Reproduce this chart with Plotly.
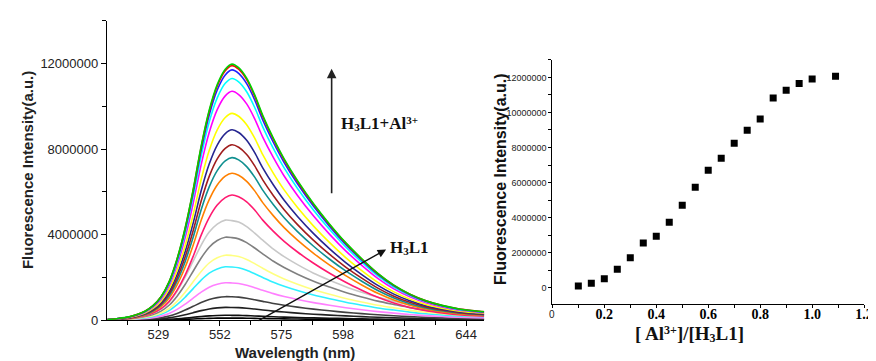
import plotly.graph_objects as go

W, H = 876, 361

# ---------------- data ----------------
# wavelength grid (nm) for emission spectra
wavelength = [510, 514, 518, 521, 524, 527, 530, 533, 536, 539, 542, 545, 548, 551, 554,
              556.5, 559, 562, 565, 568, 572, 576, 581, 587, 593, 599, 605, 611, 617, 623,
              629, 635, 641, 647, 651]
# spectral profile (normalised to its peak)
profile_high = [0.003, 0.007, 0.013, 0.022, 0.035, 0.057, 0.092, 0.15, 0.24, 0.36, 0.51, 0.68,
                0.82, 0.92, 0.98, 1.0, 0.986, 0.945, 0.88, 0.80, 0.71, 0.63, 0.545, 0.455,
                0.375, 0.303, 0.24, 0.183, 0.137, 0.102, 0.076, 0.058, 0.045, 0.037, 0.033]
# spectral profile (normalised)
profile_low = [0.004, 0.009, 0.017, 0.028, 0.045, 0.07, 0.11, 0.18, 0.29, 0.43, 0.59, 0.75,
               0.88, 0.96, 1.0, 0.995, 0.98, 0.935, 0.87, 0.80, 0.71, 0.635, 0.555, 0.47,
               0.40, 0.335, 0.28, 0.23, 0.19, 0.152, 0.122, 0.10, 0.082, 0.07, 0.064]
# peak intensity of each spectrum (top to bottom)
peak_intensity = [11970000, 11900000, 11700000, 11300000, 10700000, 9670000, 8900000, 8200000,
                  7600000, 6870000, 5850000, 4680000, 3880000, 3040000, 2500000, 1750000,
                  1100000, 600000, 230000, 100000]
curve_colors = ["#00d000", "#ff0000", "#2020ff", "#00ffff", "#ff00ff", "#ffff00", "#262690",
                "#a01e1e", "#109090", "#ff8000", "#ff1a70", "#c8c8c8", "#808080", "#ffff80",
                "#30f0ff", "#ff80ff", "#404040", "#202020", "#101010", "#000000"]

# titration data
ratio = [0.10, 0.15, 0.20, 0.25, 0.30, 0.35, 0.40, 0.45, 0.50, 0.55, 0.60, 0.65, 0.70, 0.75,
         0.80, 0.85, 0.90, 0.95, 1.00, 1.09]
intensity = [110000, 260000, 520000, 1060000, 1710000, 2550000, 2940000, 3740000, 4710000,
             5730000, 6700000, 7390000, 8240000, 8990000, 9620000, 10830000, 11260000,
             11650000, 11910000, 12060000]

left_xticks = [529, 552, 575, 598, 621, 644]
left_yticks = [0, 4000000, 8000000, 12000000]
right_yticks = [0, 2000000, 4000000, 6000000, 8000000, 10000000, 12000000]
right_xticks = [0.2, 0.4, 0.6, 0.8, 1.0, 1.2]

SANS = "Liberation Sans, Arial, sans-serif"
SERIF = "Liberation Serif, Times New Roman, serif"

fig = go.Figure()

n = len(peak_intensity)
for i in reversed(range(n)):
    prof = profile_high if i < 11 else profile_low
    fig.add_trace(go.Scatter(
        x=wavelength, y=[p * peak_intensity[i] for p in prof],
        mode="lines", line=dict(color=curve_colors[i], width=1.6, shape="spline", smoothing=0.8),
        xaxis="x", yaxis="y", showlegend=False, hoverinfo="skip"))

fig.add_trace(go.Scatter(
    x=ratio, y=intensity, mode="markers",
    marker=dict(symbol="square", size=7, color="black"),
    xaxis="x2", yaxis="y2", showlegend=False))

def px_x(p):
    return p / W

def px_y(p):
    return 1 - p / H

fig.update_layout(
    width=W, height=H, margin=dict(l=0, r=0, t=0, b=0),
    paper_bgcolor="white", plot_bgcolor="white",
    xaxis=dict(domain=[px_x(100), px_x(481)], range=[509.8, 650.7],
               tickvals=left_xticks, ticks="outside", ticklen=5, tickwidth=1, tickcolor="black",
               showline=True, linecolor="black", linewidth=1.3, showgrid=False, zeroline=False,
               ticklabelstandoff=-3,
               tickfont=dict(family=SANS, size=13, color="#222"),
               minor=dict(tickvals=[517.5, 540.5, 563.5, 586.5, 609.5, 632.5], ticks="outside",
                          ticklen=4, tickcolor="black", showgrid=False)),
    yaxis=dict(domain=[px_y(319.3), px_y(13)], range=[0, 14000000],
               tickvals=left_yticks, ticktext=[str(v) for v in left_yticks],
               ticks="outside", ticklen=5, tickwidth=1, tickcolor="black",
               showline=True, linecolor="black", linewidth=1.3, showgrid=False, zeroline=False,
               tickfont=dict(family=SANS, size=13, color="#222"),
               minor=dict(tickvals=[2000000, 6000000, 10000000, 14000000], ticks="outside",
                          ticklen=4, tickcolor="black", showgrid=False)),
    xaxis2=dict(domain=[px_x(550), px_x(865)], range=[0, 1.2], anchor="y2",
                tickvals=right_xticks, ticktext=["0.2", "0.4", "0.6", "0.8", "1.0", "1.2"],
                ticks="outside", ticklen=3, tickwidth=1, tickcolor="black",
                showline=True, linecolor="black", linewidth=1.2, showgrid=False, zeroline=False,
                ticklabelstandoff=-6,
                tickfont=dict(family=SERIF, size=14, color="black", weight="bold"),
                minor=dict(tickvals=[0, 0.1, 0.3, 0.5, 0.7, 0.9, 1.1], ticks="outside",
                           ticklen=3, tickcolor="black", showgrid=False)),
    yaxis2=dict(domain=[px_y(302.3), px_y(53)], range=[-900000, 13000000], anchor="x2",
                tickvals=right_yticks, ticktext=[str(v) for v in right_yticks],
                ticks="outside", ticklen=3, tickwidth=1, tickcolor="black",
                showline=True, linecolor="black", linewidth=1.2, showgrid=False, zeroline=False,
                tickfont=dict(family=SANS, size=9, color="#222"),
                minor=dict(tickvals=[1000000, 3000000, 5000000, 7000000, 9000000, 11000000,
                                     13000000], ticks="outside", ticklen=3, tickcolor="black",
                           showgrid=False)),
)

C = dict(xref="paper", yref="paper", xanchor="center", yanchor="middle")
L = dict(xref="paper", yref="paper", xanchor="left", yanchor="middle")

SUB3 = "<span style='font-size:11px;baseline-shift:-2px'>3</span>"
SUP3 = "<span style='font-size:11px;baseline-shift:5px'>3+</span>"
SUB3B = "<span style='font-size:12px;baseline-shift:-2px'>3</span>"
SUP3B = "<span style='font-size:12px;baseline-shift:6px'>3+</span>"

annotations = [
    # left axis titles
    dict(x=px_x(20), y=px_y(166), text="<b>Fluorescence Intensity(a.u.)</b>",
         textangle=-90, showarrow=False, font=dict(family=SANS, size=15, color="#222"), **C),
    dict(x=px_x(290), y=px_y(352), text="<b>Wavelength (nm)</b>",
         showarrow=False, font=dict(family=SANS, size=15, color="#222"), **C),
    # right axis titles
    dict(x=px_x(497), y=px_y(175), text="<b>Fluorescence Intensity(a.u.)</b>",
         textangle=-90, showarrow=False, font=dict(family=SANS, size=16, color="#111"), **C),
    dict(x=px_x(689), y=px_y(333),
         text="<b>[ Al" + SUP3B + "]/[H" + SUB3B + "L1]</b>",
         showarrow=False, font=dict(family=SERIF, size=19, color="#111"), **C),
    # "0" tick label on right x axis
    dict(x=px_x(550), y=px_y(313), text="0",
         showarrow=False, font=dict(family=SANS, size=10, color="#222"), **C),
    # arrows and labels
    dict(x=px_x(327), y=px_y(62), xref="paper", yref="paper", ax=0, ay=126,
         axref="pixel", ayref="pixel", showarrow=True, arrowhead=2, arrowsize=1.2,
         arrowwidth=1.6, arrowcolor="#222", text=""),
    dict(x=px_x(334), y=px_y(118),
         text="<b>H" + SUB3 + "L1+Al" + SUP3 + "</b>", showarrow=False,
         font=dict(family=SERIF, size=17, color="#111"), **L),
    dict(x=px_x(382), y=px_y(247), xref="paper", yref="paper", ax=-129, ay=72,
         axref="pixel", ayref="pixel", showarrow=True, arrowhead=2, arrowsize=1.2,
         arrowwidth=1.4, arrowcolor="#111", text=""),
    dict(x=px_x(384), y=px_y(245),
         text="<b>H" + SUB3 + "L1</b>", showarrow=False,
         font=dict(family=SERIF, size=17, color="#111"), **L),
]
fig.update_layout(annotations=annotations)

fig.write_html("out.html")
